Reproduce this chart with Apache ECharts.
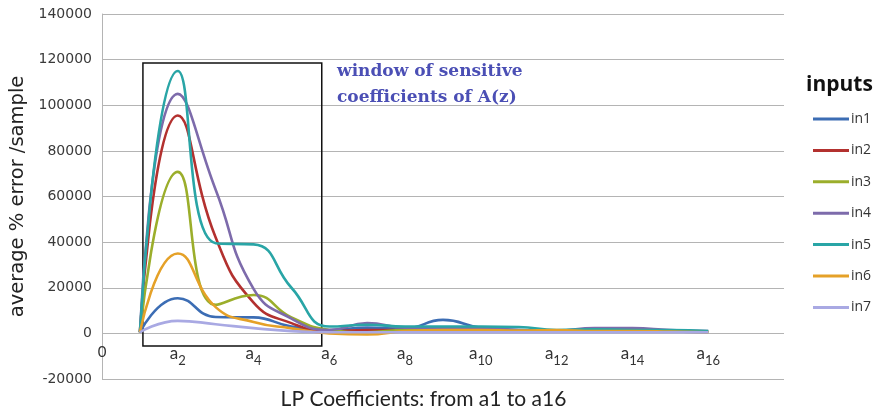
<!DOCTYPE html>
<html>
<head>
<meta charset="utf-8">
<script src="https://cdn.jsdelivr.net/npm/echarts@6/dist/echarts.min.js"></script>
<style>
html,body{margin:0;padding:0;background:#fff;}
#chart{width:874px;height:417px;}
</style>
</head>
<body>
<div id="chart"></div>
<script>
// LP coefficient index (a1..a16)
const coeffIndex = [1, 2, 3, 4, 5, 6, 7, 8, 9, 10, 11, 12, 13, 14, 15, 16];
const seriesNames = ['in1', 'in2', 'in3', 'in4', 'in5', 'in6', 'in7'];
const in1 = [500, 15400, 7200, 7000, 3000, 1500, 2500, 2200, 5900, 2500, 1500, 800, 1000, 1200, 800, 500];
const in2 = [500, 95500, 42000, 13500, 4500, 1000, 1500, 1500, 2000, 1800, 1200, 1000, 1200, 1500, 1000, 800];
const in3 = [500, 70800, 12500, 16800, 7000, 1500, 500, 1500, 1500, 1500, 1000, 1000, 1200, 1200, 1000, 800];
const in4 = [500, 105000, 63000, 19500, 6500, 1500, 4500, 2500, 2500, 2500, 1500, 1200, 2300, 2300, 1500, 1000];
const in5 = [500, 115000, 39500, 39000, 20000, 3000, 3800, 3000, 3000, 3000, 2800, 1500, 1800, 1500, 1500, 1000];
const in6 = [500, 35000, 11500, 5000, 2200, 0, -500, 1000, 1500, 1500, 1200, 1500, 1000, 1000, 800, 500];
const in7 = [500, 5500, 4000, 2300, 1000, 500, 500, 500, 500, 500, 500, 500, 500, 500, 500, 500];
const seriesValues = [in1, in2, in3, in4, in5, in6, in7];
const colors = ['#3c6db4', '#b3312f', '#9bae2b', '#7d6bab', '#29a5a6', '#e5a128', '#a9a9e3'];
// x tick labels: subscript index of coefficient
const xTickSubs = { 2: '2', 4: '4', 6: '6', 8: '8', 10: '10', 12: '12', 14: '14', 16: '16' };
// annotation window (data coordinates)
const windowBox = { x0: 1.08, x1: 5.8, y0: 118500, y1: -5500 };
const windowText = 'window of sensitive\ncoefficients of A(z)';

const chart = echarts.init(document.getElementById('chart'), null, { renderer: 'canvas' });

const series = seriesNames.map((name, i) => {
  const s = {
    name: name,
    type: 'line',
    smooth: 0.5,
    showSymbol: false,
    symbol: 'none',
    color: colors[i],
    lineStyle: { width: 2.6, color: colors[i] },
    data: coeffIndex.map((x, j) => [x, seriesValues[i][j]])
  };
  if (i === 0) {
    s.markArea = {
      silent: true,
      itemStyle: { color: 'rgba(0,0,0,0)', borderColor: '#111', borderWidth: 1.5 },
      data: [[{ coord: [windowBox.x0, windowBox.y0] }, { coord: [windowBox.x1, windowBox.y1] }]]
    };
  }
  return s;
});

chart.setOption({
  animation: false,
  textStyle: { fontFamily: 'Open Sans' },
  grid: { left: 102, right: 90, top: 14, bottom: 38, outerBoundsMode: 'none', containLabel: false },
  title: {
    text: 'inputs',
    left: 801,
    top: 70,
    textStyle: { fontFamily: 'Open Sans', fontWeight: 'bold', fontSize: 21, color: '#111' }
  },
  legend: {
    orient: 'vertical',
    left: 808,
    top: 106,
    icon: 'rect',
    itemWidth: 36,
    itemHeight: 3,
    itemGap: 15.4,
    textStyle: { fontFamily: 'Open Sans', fontSize: 14, color: '#333', lineHeight: 16, padding: [0, 0, 0, -3] },
    data: seriesNames
  },
  xAxis: {
    type: 'value',
    position: 'bottom',
    min: 0,
    max: 18,
    interval: 2,
    name: 'LP Coefficients: from a1 to a16',
    nameLocation: 'middle',
    nameGap: 10,
    nameTextStyle: { fontFamily: 'Lato', fontSize: 21, color: '#222', padding: [0, 39, 0, 0] },
    axisLine: { show: false, onZero: false },
    axisTick: { show: false },
    splitLine: { show: false },
    axisLabel: {
      margin: -34,
      showMaxLabel: false,
      formatter: function (v) {
        if (v === 0) return '{z|0}';
        if (xTickSubs[v] === undefined) return '';
        return '{a|a}{s|' + xTickSubs[v] + '}';
      },
      rich: {
        z: { fontFamily: 'Lato', fontSize: 15, color: '#333', verticalAlign: 'bottom', padding: [0, 0, 6, 0] },
        a: { fontFamily: 'Lato', fontSize: 17, color: '#333', verticalAlign: 'bottom', padding: [0, 0, 5, 0] },
        s: { fontFamily: 'Lato', fontSize: 13, color: '#333', verticalAlign: 'bottom' }
      }
    }
  },
  yAxis: {
    type: 'value',
    min: -20000,
    max: 140000,
    interval: 20000,
    name: 'average % error /sample',
    nameLocation: 'middle',
    nameRotate: 90,
    nameGap: 74,
    nameTextStyle: { fontFamily: 'DejaVu Sans', fontSize: 19.5, color: '#222' },
    axisLine: { show: true, onZero: false, lineStyle: { color: '#b4b4b4', width: 1 } },
    axisTick: { show: false },
    splitLine: { show: true, lineStyle: { color: '#b4b4b4', width: 1.2 } },
    axisLabel: {
      margin: 10, fontFamily: 'DejaVu Sans', fontSize: 14, color: '#3a3a3a',
      formatter: function (v) { return String(v); }
    }
  },
  graphic: [{
    type: 'text',
    left: 337,
    top: 59,
    style: {
      text: windowText,
      fontFamily: 'DejaVu Serif',
      fontWeight: 'bold',
      fontSize: 17,
      lineHeight: 26,
      fill: '#4b4fb5'
    }
  }],
  series: series
});
</script>
</body>
</html>
